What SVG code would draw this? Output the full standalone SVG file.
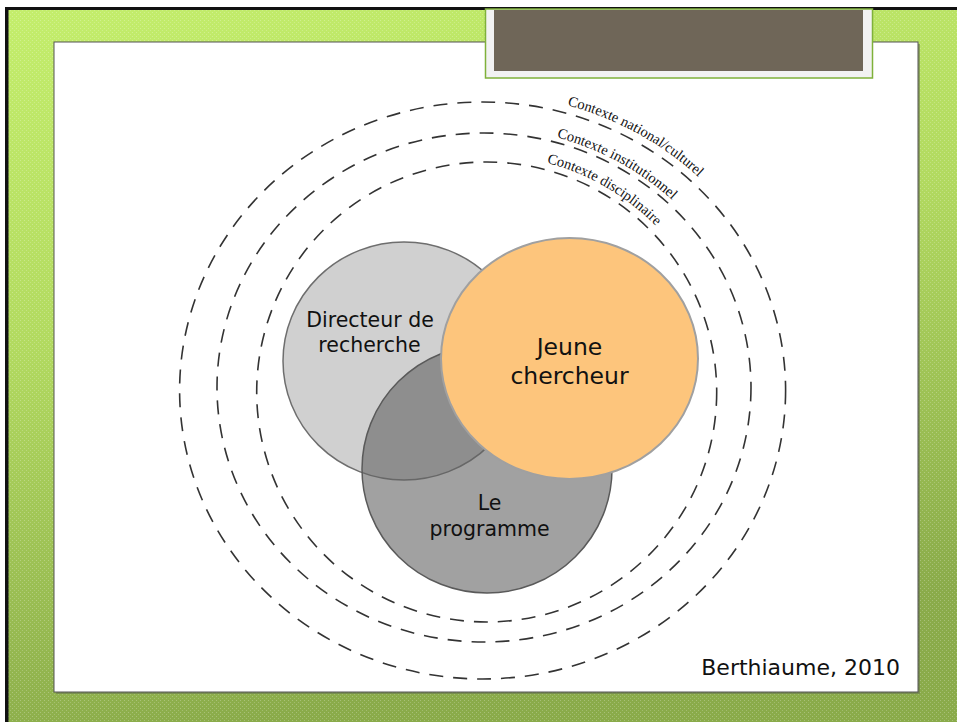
<svg xmlns="http://www.w3.org/2000/svg" width="957" height="722" viewBox="0 0 957 722">
<style>
.ring{fill:none;stroke:#333;stroke-width:1.6;stroke-dasharray:14 10}
.ctx{font-family:"Liberation Serif","Times New Roman",serif;font-size:14.5px;fill:#111}
.lbl{font-family:"DejaVu Sans",sans-serif;fill:#111;text-anchor:middle}
</style>
<defs>
<linearGradient id="bg" x1="0" y1="0" x2="0.25" y2="1">
<stop offset="0" stop-color="#c4ee6c"/>
<stop offset="0.45" stop-color="#b2da60"/>
<stop offset="1" stop-color="#8aab4a"/>
</linearGradient>
<pattern id="dots" width="4" height="4" patternUnits="userSpaceOnUse">
<rect x="0" y="0" width="1" height="1" fill="#ffffff" fill-opacity="0.25"/>
<rect x="2" y="2" width="1" height="1" fill="#ffffff" fill-opacity="0.2"/>
</pattern>
<path id="pOuter" d="M567.3,105.2 A311,296.5 0 0 1 783,313.8"/>
<path id="pMid" d="M556.7,137.4 A272,259.5 0 0 1 746.7,320.3"/>
<path id="pInner" d="M546.9,162.7 A237,237 0 0 1 715.6,330.7"/>
</defs>

<g id="background">
<rect x="0" y="0" width="957" height="722" fill="#ffffff"/>
<rect x="5" y="7" width="952" height="715" fill="url(#bg)"/>
<rect x="5" y="7" width="952" height="715" fill="url(#dots)"/>
<rect x="5" y="7" width="3.5" height="715" fill="#111"/>
<rect x="5" y="7" width="952" height="3" fill="#111"/>
<rect x="56" y="44" width="864" height="650" fill="#6a7a50" fill-opacity="0.6"/>
<rect x="54" y="42" width="864" height="650" fill="#ffffff" stroke="#555" stroke-width="1"/>
</g>

<g id="title-box">
<rect x="485.5" y="9" width="387" height="69" fill="#f2f2f2" stroke="#7fb13a" stroke-width="1.5"/>
<rect x="494" y="10" width="369" height="61" fill="#6f6658"/>
</g>

<g id="connectors">
<ellipse class="ring" cx="482.6" cy="390.5" rx="303" ry="288.5"/>
<ellipse class="ring" cx="484" cy="387.5" rx="267" ry="254.5"/>
<ellipse class="ring" cx="486.7" cy="392" rx="230" ry="230"/>
</g>

<g id="context-labels">
<text class="ctx"><textPath href="#pOuter">Contexte national/culturel</textPath></text>
<text class="ctx"><textPath href="#pMid">Contexte institutionnel</textPath></text>
<text class="ctx"><textPath href="#pInner">Contexte disciplinaire</textPath></text>
</g>

<g id="directeur">
<ellipse cx="404" cy="361" rx="121" ry="119" fill="#d0d0d0" stroke="#6e6e6e" stroke-width="1.5"/>
</g>

<g id="programme">
<ellipse cx="487" cy="469" rx="125" ry="124" fill="#636363" fill-opacity="0.6" stroke="#5a5a5a" stroke-width="1.5"/>
<text class="lbl" x="489.5" y="510" font-size="20.5">Le</text>
<text class="lbl" x="489.5" y="535.5" font-size="20.5">programme</text>
</g>

<g id="directeur-label">
<text class="lbl" x="370" y="326.5" font-size="20.5">Directeur de</text>
<text class="lbl" x="369.5" y="352" font-size="20.5">recherche</text>
</g>

<g id="jeune">
<ellipse cx="569.5" cy="358.5" rx="128.5" ry="120.5" fill="#fdc57c" stroke="#a0a0a0" stroke-width="2"/>
<text class="lbl" x="569.5" y="355" font-size="23.5">Jeune</text>
<text class="lbl" x="569.5" y="383.5" font-size="23.5">chercheur</text>
</g>

<g id="credit">
<text x="900" y="675" font-family="DejaVu Sans, sans-serif" font-size="22" fill="#111" text-anchor="end">Berthiaume, 2010</text>
</g>
</svg>
